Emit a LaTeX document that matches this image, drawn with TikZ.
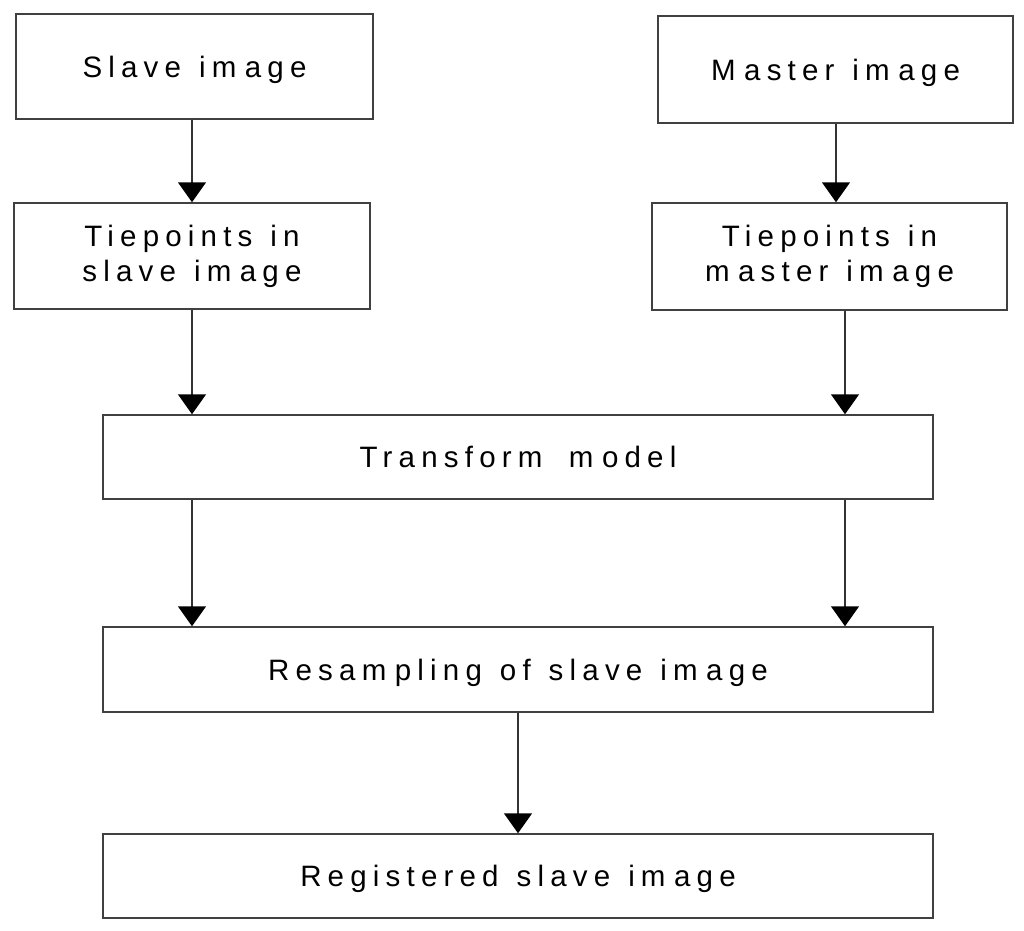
\documentclass[tikz,border=0pt]{standalone}
\usepackage{fontspec}
\setmainfont{Liberation Sans}[LetterSpace=21,WordSpace=1.25]
\usetikzlibrary{arrows.meta}
\newcommand\mgap{m\kern8.5pt\relax}
\begin{document}
\begin{tikzpicture}[x=1pt,y=-1pt,
  box/.style={draw=black!75, line width=1.5pt, rectangle, inner sep=0pt, align=center,
    font=\fontsize{29.5}{35}\selectfont},
  one/.style={text height=21pt, text depth=0pt},
  arr/.style={draw=black!80, line width=1.5pt, -{Triangle[width=28pt,length=20pt,color=black]}}]
\useasboundingbox (0,0) rectangle (1024,930);
\node[box,one, minimum width=357pt, minimum height=105pt] (slave) at (194.5,66.5) {Slave i\mgap{}age};
\node[box,one, minimum width=355pt, minimum height=107pt] (master) at (835.5,69.5) {M\kern8.5pt aster i\mgap{}age};
\node[box, minimum width=356pt, minimum height=106pt] (tps) at (192,256) {Tiepoints in\\slave i\mgap{}age};
\node[box, minimum width=355pt, minimum height=107pt] (tpm) at (829.5,256.5) {Tiepoints in\\\mgap{}aster i\mgap{}age};
\node[box,one, minimum width=830pt, minimum height=84pt] (trans) at (518,457) {Transfor\mgap{} \mgap{}odel};
\node[box,one, minimum width=830pt, minimum height=85pt] (resamp) at (518,669.5) {Resa\mgap{}pling of slave i\mgap{}age};
\node[box,one, minimum width=830pt, minimum height=84pt] (reg) at (518,876) {Registered slave i\mgap{}age};
\coordinate (rx) at (845,0);
\coordinate (mx) at (836,0);
\draw[arr] (tps.north |- slave.south) -- (tps.north);
\draw[arr] (mx |- master.south) -- (mx |- tpm.north);
\draw[arr] (tps.south) -- (tps.south |- trans.north);
\draw[arr] (rx |- tpm.south) -- (rx |- trans.north);
\draw[arr] (tps.south |- trans.south) -- (tps.south |- resamp.north);
\draw[arr] (rx |- trans.south) -- (rx |- resamp.north);
\draw[arr] (resamp.south) -- (reg.north);
\end{tikzpicture}
\end{document}
